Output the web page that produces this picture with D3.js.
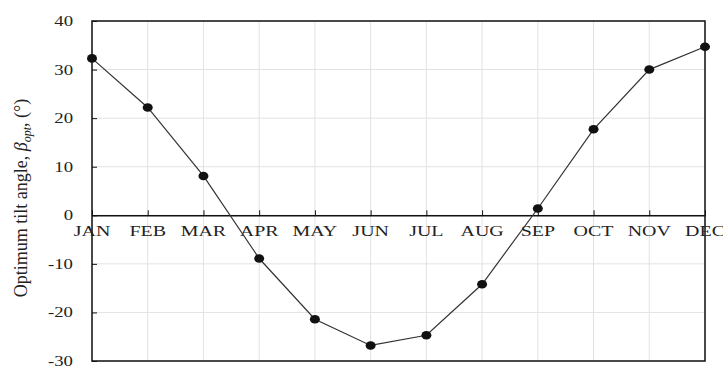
<!DOCTYPE html>
<html>
<head>
<meta charset="utf-8">
<script src="https://cdn.jsdelivr.net/npm/d3@7"></script>
<style>
  html, body { margin: 0; padding: 0; background: #fff; }
  svg { display: block; }
  text { font-family: "Liberation Serif", "DejaVu Serif", serif; fill: #222; }
</style>
</head>
<body>
<svg id="chart" width="723" height="367"></svg>
<script>
// Monthly optimum tilt angle (degrees)
const months = ["JAN", "FEB", "MAR", "APR", "MAY", "JUN", "JUL", "AUG", "SEP", "OCT", "NOV", "DEC"];
const tiltAngle = [32.3, 22.2, 8.1, -8.9, -21.4, -26.8, -24.7, -14.2, 1.4, 17.7, 30.0, 34.7];
const yTicks = [-30, -20, -10, 0, 10, 20, 30, 40];

const svg = d3.select("#chart");
const plot = { left: 92, right: 705, top: 21, bottom: 361 };

const x = d3.scalePoint().domain(months).range([plot.left, plot.right]);
const y = d3.scaleLinear().domain([-30, 40]).range([plot.bottom, plot.top]);

// Grid
const grid = svg.append("g").attr("stroke", "#e2e2e2").attr("stroke-width", 1);
grid.selectAll("line.v").data(months).join("line")
  .attr("x1", d => x(d)).attr("x2", d => x(d))
  .attr("y1", plot.top).attr("y2", plot.bottom);
grid.selectAll("line.h").data(yTicks).join("line")
  .attr("x1", plot.left).attr("x2", plot.right)
  .attr("y1", d => y(d)).attr("y2", d => y(d));

// Frame
svg.append("rect")
  .attr("x", plot.left).attr("y", plot.top)
  .attr("width", plot.right - plot.left).attr("height", plot.bottom - plot.top)
  .attr("fill", "none").attr("stroke", "#111").attr("stroke-width", 1.5);

// Y axis (ticks pointing inward)
const yAxis = svg.append("g")
  .attr("transform", `translate(${plot.left},0)`)
  .call(d3.axisRight(y).tickValues(yTicks).tickSize(5).tickFormat(""));
yAxis.select(".domain").remove();
yAxis.selectAll("line").attr("stroke", "#111");

// Tick labels use a wide, horizontally stretched serif face
svg.append("g").selectAll("text").data(yTicks).join("text")
  .attr("transform", d => `translate(73,${y(d)}) scale(1.25,1)`)
  .attr("dy", "0.33em")
  .attr("text-anchor", "end")
  .attr("font-size", 15)
  .text(d => d);

// Zero line with month ticks pointing up
const xAxis = svg.append("g")
  .attr("transform", `translate(0,${y(0)})`)
  .call(d3.axisTop(x).tickSize(5).tickFormat("").tickSizeOuter(0));
xAxis.select(".domain").attr("stroke", "#111").attr("stroke-width", 1.5);
xAxis.selectAll("line").attr("stroke", "#111");

svg.append("g").selectAll("text").data(months).join("text")
  .attr("transform", d => `translate(${x(d)},${y(0) + 21}) scale(1.33,1)`)
  .attr("text-anchor", "middle")
  .attr("font-size", 15)
  .text(d => d);

// Series line and markers
const line = d3.line().x((d, i) => x(months[i])).y(d => y(d));
svg.append("path").datum(tiltAngle)
  .attr("d", line)
  .attr("fill", "none").attr("stroke", "#333").attr("stroke-width", 1.2);

svg.append("g").selectAll("ellipse").data(tiltAngle).join("ellipse")
  .attr("cx", (d, i) => x(months[i])).attr("cy", d => y(d))
  .attr("rx", 5).attr("ry", 4.3)
  .attr("fill", "#111");

// Y axis title
const title = svg.append("text")
  .attr("transform", "translate(27,198) rotate(-90)")
  .attr("text-anchor", "middle")
  .attr("font-size", 18);
title.append("tspan").text("Optimum tilt angle, ");
title.append("tspan").attr("font-style", "italic").text("β");
title.append("tspan").attr("font-style", "italic").attr("font-size", 12).attr("dy", 4).text("opt");
title.append("tspan").attr("dy", -4).text(", (°)");
</script>
</body>
</html>
